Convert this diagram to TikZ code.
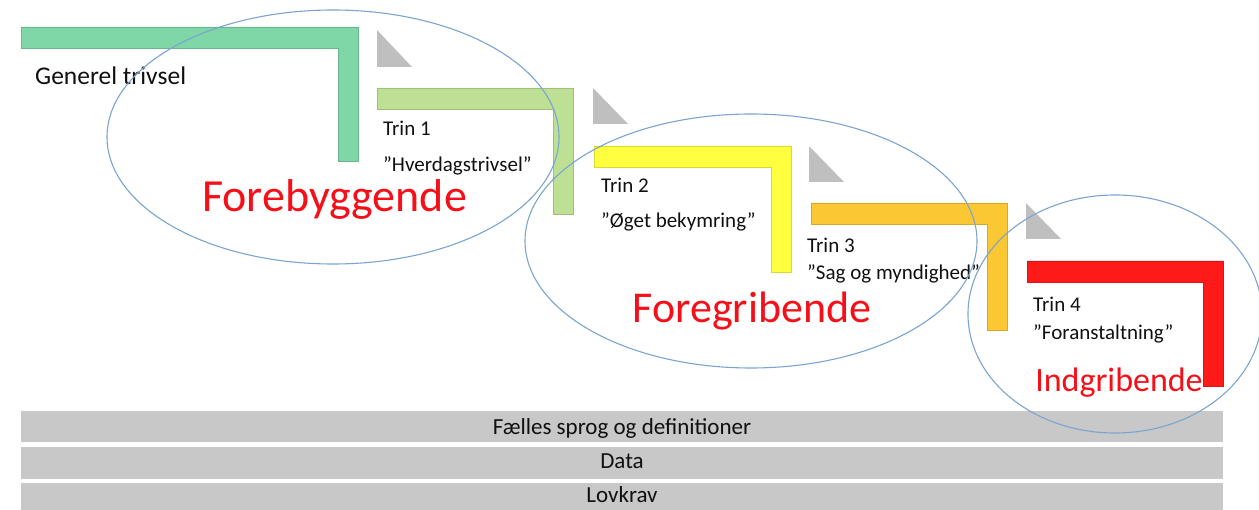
\documentclass[tikz,border=0pt]{standalone}
\usepackage{fontspec}
\setmainfont{Carlito}
\definecolor{cA}{HTML}{7FD6A7}
\definecolor{cB}{HTML}{BDE095}
\definecolor{cC}{HTML}{FFFF40}
\definecolor{cD}{HTML}{FBC833}
\definecolor{cE}{HTML}{FF1A1A}
\definecolor{trigray}{HTML}{BFBFBF}
\definecolor{ellblue}{HTML}{7BA5D0}
\definecolor{bargray}{HTML}{C8C8C8}
\definecolor{txt}{HTML}{101010}
\definecolor{bigred}{HTML}{F50F19}
\tikzset{
  lbar/.style={fill=#1, draw=#1!85!black, line width=0.4pt},
  tri/.style={fill=trigray, draw=none},
  ell/.style={draw=ellblue, line width=1.1pt},
  steptxt/.style={anchor=base west, inner sep=0pt, text=txt, font=\fontsize{21}{21}\selectfont},
  bigtxt/.style={anchor=base, inner sep=0pt, text=bigred, font=\fontsize{#1}{#1}\selectfont},
  basebar/.style={fill=bargray, draw=none},
  basetxt/.style={anchor=base, inner sep=0pt, text=txt, font=\fontsize{23}{23}\selectfont}
}
\newcommand{\Lbar}[5]{% x1, ytop, x2, ybot, color
  \fill[lbar=#5] (#1,#2) -- (#3,#2) -- (#3,#4) -- ({#3-20},#4) -- ({#3-20},{#2+21}) -- (#1,{#2+21}) -- cycle;}
\begin{document}
\begin{tikzpicture}[x=1pt,y=-1pt]
\useasboundingbox (0,0) rectangle (1259,510);
\clip (0,0) rectangle (1259,510);
% L-shaped bars
\Lbar{21}{27}{358}{161}{cA}
\Lbar{377}{88}{573}{214}{cB}
\Lbar{594}{146}{791}{272}{cC}
\Lbar{811}{203}{1007}{330}{cD}
\Lbar{1027}{261}{1223}{386}{cE}
% triangles
\fill[tri] (377,30) -- (377,67) -- (412,67) -- cycle;
\fill[tri] (593,88) -- (593,124) -- (628,124) -- cycle;
\fill[tri] (809,146) -- (809,182) -- (844,182) -- cycle;
\fill[tri] (1026,203) -- (1026,239) -- (1061,239) -- cycle;
% base bars
\fill[basebar] (21,411) rectangle (1223,442);
\fill[basebar] (21,447) rectangle (1223,479);
\fill[basebar] (21,483) rectangle (1223,515);
\node[basetxt] (b1) at (622,435) {Fælles sprog og definitioner};
\node[basetxt] (b2) at (622,469) {Data};
\node[basetxt] (b3) at (622,503) {Lovkrav};
% step texts
\node[steptxt, font=\fontsize{25.5}{25.5}\selectfont] (gen) at (35,85) {Generel trivsel};
\node[steptxt] (t1) at (383,136) {Trin 1};
\node[steptxt] (q1) at (383,172) {”Hverdagstrivsel”};
\node[steptxt] (t2) at (601,193) {Trin 2};
\node[steptxt] (q2) at (601,228) {”Øget bekymring”};
\node[steptxt] (t3) at (807,253) {Trin 3};
\node[steptxt] (q3) at (807,280) {”Sag og myndighed”};
\node[steptxt] (t4) at (1033,312) {Trin 4};
\node[steptxt] (q4) at (1033,340) {”Foranstaltning”};
% big red labels
\node[bigtxt=46] (r1) at (334.5,212) {Forebyggende};
\node[bigtxt=44] (r2) at (752,323) {Foregribende};
\node[bigtxt=34] (r3) at (1119,392) {Indgribende};
% ellipses
\draw[ell] (333,137) ellipse [x radius=226, y radius=127];
\draw[ell] (751,241) ellipse [x radius=226, y radius=127];
\draw[ell] (1115,314) ellipse [x radius=147, y radius=119];
\end{tikzpicture}
\end{document}
